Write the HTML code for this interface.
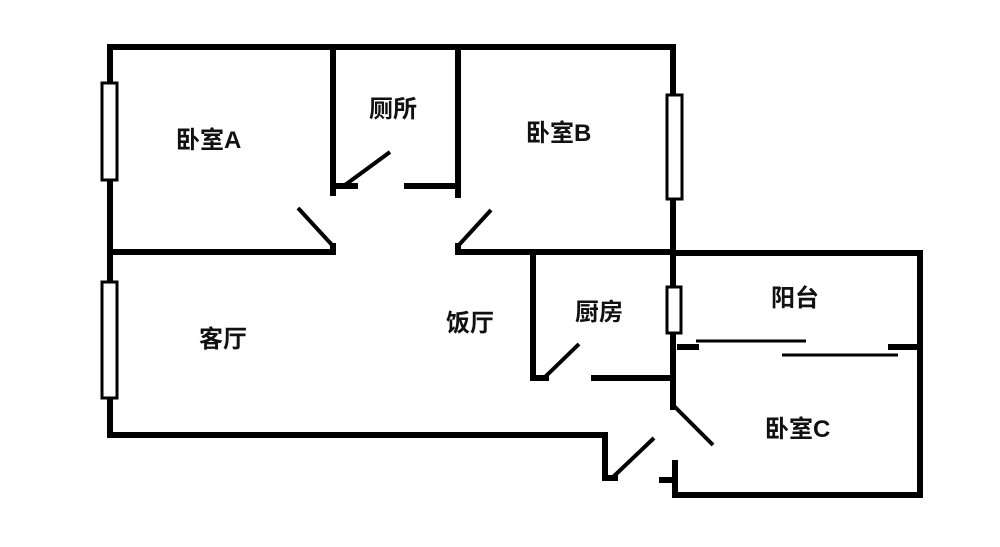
<!DOCTYPE html>
<html><head><meta charset="utf-8"><style>
html,body{margin:0;padding:0;background:#fff;width:1000px;height:547px;overflow:hidden}
text{font-family:"Liberation Sans","Noto Sans CJK SC",sans-serif;font-weight:bold;font-size:24px;fill:#111}
</style></head><body>
<svg width="1000" height="547" viewBox="0 0 1000 547" xmlns="http://www.w3.org/2000/svg">
<g stroke="#000" stroke-width="6" fill="none" stroke-linecap="square">
<polyline points="110,47 673,47 673,407"/>
<polyline points="110,47 110,435 605,435 605,478 615,478"/>
<polyline points="333,47 333,193"/>
<line x1="333" y1="186" x2="355" y2="186"/>
<line x1="407" y1="186" x2="457" y2="186"/>
<polyline points="458,47 458,195"/>
<polyline points="110,252 333,252 333,246"/>
<polyline points="458,246 458,252 673,252"/>
<polyline points="533,254 533,378 546,378"/>
<line x1="594" y1="378" x2="671" y2="378"/>
<polyline points="673,253 920,253 920,495 675,495 675,463"/>
<line x1="662" y1="480" x2="675" y2="480"/>
<line x1="680" y1="347" x2="696" y2="347"/>
<line x1="891" y1="347" x2="918" y2="347"/>
</g>
<g stroke="#000" stroke-width="4" fill="none">
<line x1="345" y1="185" x2="390" y2="152"/>
<line x1="333" y1="246" x2="298" y2="208"/>
<line x1="458" y1="246" x2="491" y2="210"/>
<line x1="545" y1="377" x2="579" y2="344"/>
<line x1="612" y1="478" x2="654" y2="438"/>
<line x1="674" y1="406" x2="713" y2="445"/>
</g>
<g stroke="#000" stroke-width="3">
<line x1="696" y1="341" x2="806" y2="341"/>
<line x1="782" y1="355" x2="898" y2="355"/>
</g>
<g stroke="#000" stroke-width="3" fill="#fff">
<rect x="102" y="83" width="15" height="97"/>
<rect x="102" y="282" width="15" height="116"/>
<rect x="667" y="95" width="15" height="104"/>
<rect x="667" y="287" width="14" height="46"/>
</g>
<text x="176" y="148">卧室A</text>
<text x="369" y="117">厕所</text>
<text x="526" y="141">卧室B</text>
<text x="199" y="347">客厅</text>
<text x="446" y="331">饭厅</text>
<text x="575" y="320">厨房</text>
<text x="771" y="306">阳台</text>
<text x="765" y="437">卧室C</text>
</svg>
</body></html>
